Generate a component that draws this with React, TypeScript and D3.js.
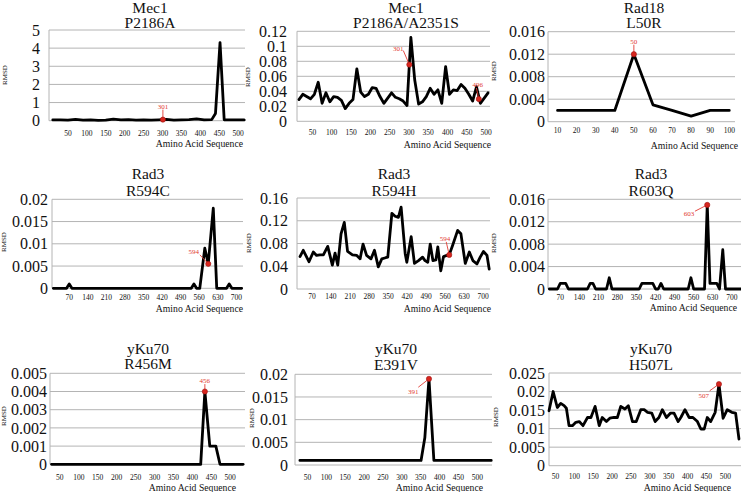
import React from "react";
import * as d3 from "d3";

// ---------- text ----------
const GENES = ["Mec1", "Mec1", "Rad18", "Rad3", "Rad3", "Rad3", "yKu70", "yKu70", "yKu70"];
const MUTATIONS = ["P2186A", "P2186A/A2351S", "L50R", "R594C", "R594H", "R603Q", "R456M", "E391V", "H507L"];
const Y_TITLE = "RMSD";
const X_TITLE = "Amino Acid Sequence";

// ---------- ticks ----------
const X_TICKS_50 = [50, 100, 150, 200, 250, 300, 350, 400, 450, 500];
const X_TICKS_70 = [70, 140, 210, 280, 350, 420, 490, 560, 630, 700];
const X_TICKS_10 = [10, 20, 30, 40, 50, 60, 70, 80, 90, 100];

const Y_TICKS_P1 = [0, 1, 2, 3, 4, 5];
const Y_TICKS_P2 = [0, 0.02, 0.04, 0.06, 0.08, 0.1, 0.12];
const Y_TICKS_P3 = [0, 0.004, 0.008, 0.012, 0.016];
const Y_TICKS_P4 = [0, 0.005, 0.01, 0.015, 0.02];
const Y_TICKS_P5 = [0, 0.04, 0.08, 0.12, 0.16];
const Y_TICKS_P6 = [0, 0.004, 0.008, 0.012, 0.016];
const Y_TICKS_P7 = [0, 0.001, 0.002, 0.003, 0.004, 0.005];
const Y_TICKS_P8 = [0, 0.005, 0.01, 0.015, 0.02];
const Y_TICKS_P9 = [0, 0.005, 0.01, 0.015, 0.02, 0.025];

// ---------- series ----------
const P1_X = [10, 30, 50, 70, 90, 110, 130, 150, 170, 190, 210, 230, 250, 270, 290, 310, 330, 350, 370, 390, 410, 430, 440, 452, 463, 480, 500, 516];
const P1_Y = [0.04, 0.05, 0.03, 0.07, 0.03, 0.04, 0.02, 0.03, 0.09, 0.04, 0.06, 0.03, 0.04, 0.03, 0.05, 0.07, 0.03, 0.05, 0.06, 0.1, 0.05, 0.06, 0.4, 4.3, 0.05, 0.04, 0.05, 0.04];

const P2_X = [15, 25, 35, 45, 55, 65, 75, 85, 95, 105, 115, 125, 135, 145, 155, 165, 175, 185, 195, 205, 215, 225, 235, 245, 255, 265, 275, 285, 295, 305, 315, 325, 335, 345, 355, 365, 375, 385, 395, 405, 415, 425, 435, 445, 455, 465, 475, 485, 495, 505];
const P2_Y = [0.029, 0.036, 0.033, 0.03, 0.036, 0.052, 0.024, 0.038, 0.026, 0.033, 0.032, 0.028, 0.017, 0.024, 0.029, 0.07, 0.039, 0.033, 0.036, 0.045, 0.044, 0.033, 0.024, 0.031, 0.038, 0.032, 0.03, 0.027, 0.021, 0.112, 0.055, 0.023, 0.026, 0.033, 0.044, 0.036, 0.042, 0.024, 0.073, 0.036, 0.042, 0.041, 0.049, 0.044, 0.036, 0.027, 0.046, 0.024, 0.031, 0.038];

const P3_X = [10, 20, 30, 40, 50, 60, 70, 80, 90, 100];
const P3_Y = [0.002, 0.002, 0.002, 0.002, 0.012, 0.003, 0.002, 0.001, 0.002, 0.002];

const P4_X = [10, 60, 70, 80, 530, 540, 550, 562, 581, 594, 613, 626, 663, 673, 683, 720];
const P4_Y = [0, 0, 0.001, 0, 0, 0.001, 0, 0, 0.009, 0.0055, 0.018, 0, 0, 0.001, 0, 0];

const P5_X = [26, 38, 59, 75, 87, 99, 112, 128, 145, 155, 165, 177, 189, 201, 219, 235, 247, 258, 271, 287, 300, 314, 327, 341, 349, 364, 376, 388, 398, 413, 419, 435, 447, 462, 477, 486, 496, 505, 515, 526, 533, 544, 554, 566, 575, 587, 606, 618, 634, 649, 662, 677, 689, 701, 714, 722];
const P5_Y = [0.057, 0.068, 0.048, 0.065, 0.059, 0.06, 0.06, 0.075, 0.042, 0.063, 0.042, 0.097, 0.117, 0.066, 0.06, 0.059, 0.053, 0.079, 0.059, 0.053, 0.068, 0.039, 0.053, 0.055, 0.056, 0.133, 0.128, 0.126, 0.144, 0.062, 0.047, 0.092, 0.045, 0.05, 0.056, 0.05, 0.047, 0.079, 0.05, 0.051, 0.074, 0.032, 0.057, 0.059, 0.06, 0.076, 0.103, 0.097, 0.045, 0.065, 0.05, 0.044, 0.056, 0.066, 0.059, 0.035];

const P6_X = [30, 60, 70, 90, 100, 170, 180, 190, 200, 240, 250, 260, 360, 370, 410, 420, 430, 440, 450, 540, 550, 560, 600, 610, 620, 645, 655, 667, 677, 740];
const P6_Y = [0, 0, 0.001, 0.001, 0, 0, 0.001, 0.001, 0, 0, 0.002, 0, 0, 0.001, 0.001, 0, 0, 0.001, 0, 0, 0.002, 0, 0, 0.015, 0.001, 0.001, 0, 0.007, 0, 0];

const P7_X = [28, 422, 433, 446, 462, 473, 534];
const P7_Y = [0, 0, 0.004, 0.001, 0.001, 0, 0];

const P8_X = [30, 351, 361, 372, 385, 537];
const P8_Y = [0.001, 0.001, 0.006, 0.019, 0.001, 0.001];

const P9_X = [33, 44, 55, 64, 73, 79, 86, 95, 104, 113, 123, 135, 144, 155, 166, 174, 185, 194, 205, 214, 223, 234, 243, 254, 264, 276, 285, 294, 305, 314, 324, 333, 344, 355, 364, 375, 382, 393, 404, 414, 426, 435, 444, 452, 461, 473, 483, 494, 505, 517, 527, 536];
const P9_Y = [0.0148, 0.02, 0.0157, 0.0168, 0.0162, 0.0155, 0.0108, 0.0108, 0.0117, 0.0119, 0.0108, 0.013, 0.013, 0.016, 0.0108, 0.013, 0.0119, 0.0128, 0.013, 0.013, 0.016, 0.0153, 0.0162, 0.0119, 0.0119, 0.0151, 0.0151, 0.0144, 0.0142, 0.0119, 0.013, 0.0151, 0.013, 0.0142, 0.0142, 0.0119, 0.013, 0.0151, 0.013, 0.013, 0.0119, 0.0099, 0.0099, 0.013, 0.0119, 0.0144, 0.022, 0.0128, 0.0151, 0.0144, 0.0142, 0.0072];

// ---------- highlighted residues ----------
const MARK_LABELS = [["301"], ["301", "496"], ["50"], ["594"], ["594"], ["603"], ["456"], ["391"], ["507"]];
const MARK_X = [[301], [301, 481], [50], [594], [575], [610], [433], [372], [483]];
const MARK_Y = [[0.06], [0.0756, 0.0297], [0.012], [0.0055], [0.06], [0.015], [0.004], [0.019], [0.022]];

const SERIES_X = [P1_X, P2_X, P3_X, P4_X, P5_X, P6_X, P7_X, P8_X, P9_X];
const SERIES_Y = [P1_Y, P2_Y, P3_Y, P4_Y, P5_Y, P6_Y, P7_Y, P8_Y, P9_Y];
const Y_TICKS = [Y_TICKS_P1, Y_TICKS_P2, Y_TICKS_P3, Y_TICKS_P4, Y_TICKS_P5, Y_TICKS_P6, Y_TICKS_P7, Y_TICKS_P8, Y_TICKS_P9];
const X_TICKS = [X_TICKS_50, X_TICKS_50, X_TICKS_10, X_TICKS_70, X_TICKS_70, X_TICKS_70, X_TICKS_50, X_TICKS_50, X_TICKS_50];

// ---------- layout (pixels) ----------
type L = {
  left: number; right: number; top: number; bottom: number; x0: number; x1: number;
  titleX: number; t1: number; t2: number; yLabR: number; xTickY: number;
  aasY: number; aasR: number; rmsdX: number; rmsdY: number;
};
const LAYOUT: L[] = [
  { left: 49, right: 245, top: 30, bottom: 120.7, x0: 0, x1: 518, titleX: 150, t1: 12.5, t2: 28, yLabR: 40, xTickY: 135.5, aasY: 147, aasR: 243, rmsdX: 4, rmsdY: 75 },
  { left: 297, right: 490, top: 31.3, bottom: 121.3, x0: 10, x1: 510, titleX: 406, t1: 12.5, t2: 28, yLabR: 287, xTickY: 135, aasY: 147.5, aasR: 491, rmsdX: 247.5, rmsdY: 77 },
  { left: 548, right: 735, top: 31.7, bottom: 121.7, x0: 5, x1: 103, titleX: 644, t1: 12.5, t2: 28, yLabR: 545, xTickY: 133, aasY: 148.5, aasR: 738, rmsdX: 493, rmsdY: 71 },
  { left: 52, right: 243, top: 199.3, bottom: 288.3, x0: 5, x1: 725, titleX: 148, t1: 178.5, t2: 195.5, yLabR: 48, xTickY: 299.5, aasY: 311.7, aasR: 243, rmsdX: 3, rmsdY: 242 },
  { left: 297, right: 490, top: 198, bottom: 289, x0: 15, x1: 725, titleX: 394, t1: 178.5, t2: 195.5, yLabR: 288, xTickY: 299, aasY: 311.7, aasR: 491, rmsdX: 248, rmsdY: 243 },
  { left: 548, right: 744, top: 199.3, bottom: 289, x0: 25, x1: 745, titleX: 651, t1: 178.5, t2: 195.5, yLabR: 545, xTickY: 299.5, aasY: 310.5, aasR: 737, rmsdX: 493, rmsdY: 243 },
  { left: 50, right: 245, top: 373.3, bottom: 464.3, x0: 24, x1: 539, titleX: 148, t1: 353.5, t2: 369, yLabR: 47, xTickY: 480, aasY: 490.7, aasR: 236, rmsdX: 3, rmsdY: 416 },
  { left: 295, right: 492, top: 374.3, bottom: 465, x0: 17, x1: 539, titleX: 396, t1: 353.5, t2: 369.5, yLabR: 288, xTickY: 480, aasY: 490.7, aasR: 483, rmsdX: 251, rmsdY: 418 },
  { left: 549, right: 742, top: 373, bottom: 465.7, x0: 33, x1: 544, titleX: 651, t1: 354, t2: 370, yLabR: 545, xTickY: 478.5, aasY: 490.7, aasR: 731, rmsdX: 495, rmsdY: 417 },
];

// label offset (text centre/baseline) and leader-line start, relative to the marked point
const MARK_OFFSETS = [
  [{ lx: 0, ly: -11, sx: 0, sy: -10 }],
  [{ lx: -11, ly: -13.5, sx: -6, sy: -14 }, { lx: -1, ly: -12, sx: -2.4, sy: -11 }],
  [{ lx: 0, ly: -10, sx: 0, sy: -9.5 }],
  [{ lx: -14.5, ly: -10, sx: -8.4, sy: -9 }],
  [{ lx: -4.3, ly: -14, sx: -3, sy: -13 }],
  [{ lx: -18.3, ly: 10.7, sx: -12.3, sy: 6.3 }],
  [{ lx: 0, ly: -8.4, sx: 0, sy: -7.4 }],
  [{ lx: -15.7, ly: 15, sx: -10.7, sy: 8.4 }],
  [{ lx: -15.3, ly: 14, sx: -9.3, sy: 6.7 }],
];

const FONT = "'Liberation Serif', 'Times New Roman', Times, serif";
const GRID = "#b4b4b4";
const RED = "#e23a32";

function Panel({ i }: { i: number }) {
  const L = LAYOUT[i];
  const yTicks = Y_TICKS[i];
  const x = d3.scaleLinear().domain([L.x0, L.x1]).range([L.left, L.right]);
  const y = d3.scaleLinear().domain([0, yTicks[yTicks.length - 1]]).range([L.bottom, L.top]);
  const xs = SERIES_X[i];
  const ys = SERIES_Y[i];
  const pts = xs.map((v, k) => [v, ys[k]] as [number, number]);
  const line = d3.line<[number, number]>().x((d) => x(d[0])).y((d) => y(d[1]));
  return (
    <g>
      {yTicks.map((t) => (
        <line key={"g" + t} x1={L.left} x2={L.right} y1={y(t)} y2={y(t)} stroke={GRID} strokeWidth={1} />
      ))}
      <line x1={L.left} x2={L.left} y1={L.top} y2={L.bottom} stroke={GRID} strokeWidth={1} />
      {yTicks.map((t) => (
        <text key={"y" + t} x={L.yLabR} y={y(t)} dy="0.35em" textAnchor="end" fontSize={16} fontFamily={FONT} fill="#111">
          {String(t)}
        </text>
      ))}
      {X_TICKS[i].map((t) => (
        <text key={"x" + t} x={x(t)} y={L.xTickY} textAnchor="middle" fontSize={7.5} fontFamily={FONT} fill="#111">
          {String(t)}
        </text>
      ))}
      <text x={L.aasR} y={L.aasY} textAnchor="end" fontSize={9.7} fontFamily={FONT} fill="#111">
        {X_TITLE}
      </text>
      <text transform={`translate(${L.rmsdX + 2.5},${L.rmsdY}) rotate(-90)`} textAnchor="middle" fontSize={7} fontFamily={FONT} fill="#111">
        {Y_TITLE}
      </text>
      <text x={L.titleX} y={L.t1} textAnchor="middle" fontSize={15.5} fontFamily={FONT} fill="#111">
        {GENES[i]}
      </text>
      <text x={L.titleX} y={L.t2} textAnchor="middle" fontSize={15.5} fontFamily={FONT} fill="#111">
        {MUTATIONS[i]}
      </text>
      <path d={line(pts) || ""} fill="none" stroke="#000" strokeWidth={2.8} strokeLinejoin="round" strokeLinecap="round" />
      {MARK_X[i].map((mx, k) => {
        const px = x(mx);
        const py = y(MARK_Y[i][k]);
        const o = MARK_OFFSETS[i][k];
        return (
          <g key={"m" + k}>
            <line x1={px + o.sx} y1={py + o.sy} x2={px} y2={py} stroke={RED} strokeWidth={0.9} />
            <circle cx={px} cy={py} r={2.6} fill="#d8261e" stroke="#9c1010" strokeWidth={0.6} />
            <text x={px + o.lx} y={py + o.ly} textAnchor="middle" fontSize={7} fontFamily={FONT} fill={RED}>
              {MARK_LABELS[i][k]}
            </text>
          </g>
        );
      })}
    </g>
  );
}

export default function App() {
  return (
    <svg width={741} height={492} style={{ position: "absolute", left: 0, top: 0, background: "#fff" }}>
      <rect width={741} height={492} fill="#fff" />
      {LAYOUT.map((_, i) => (
        <Panel key={i} i={i} />
      ))}
    </svg>
  );
}
